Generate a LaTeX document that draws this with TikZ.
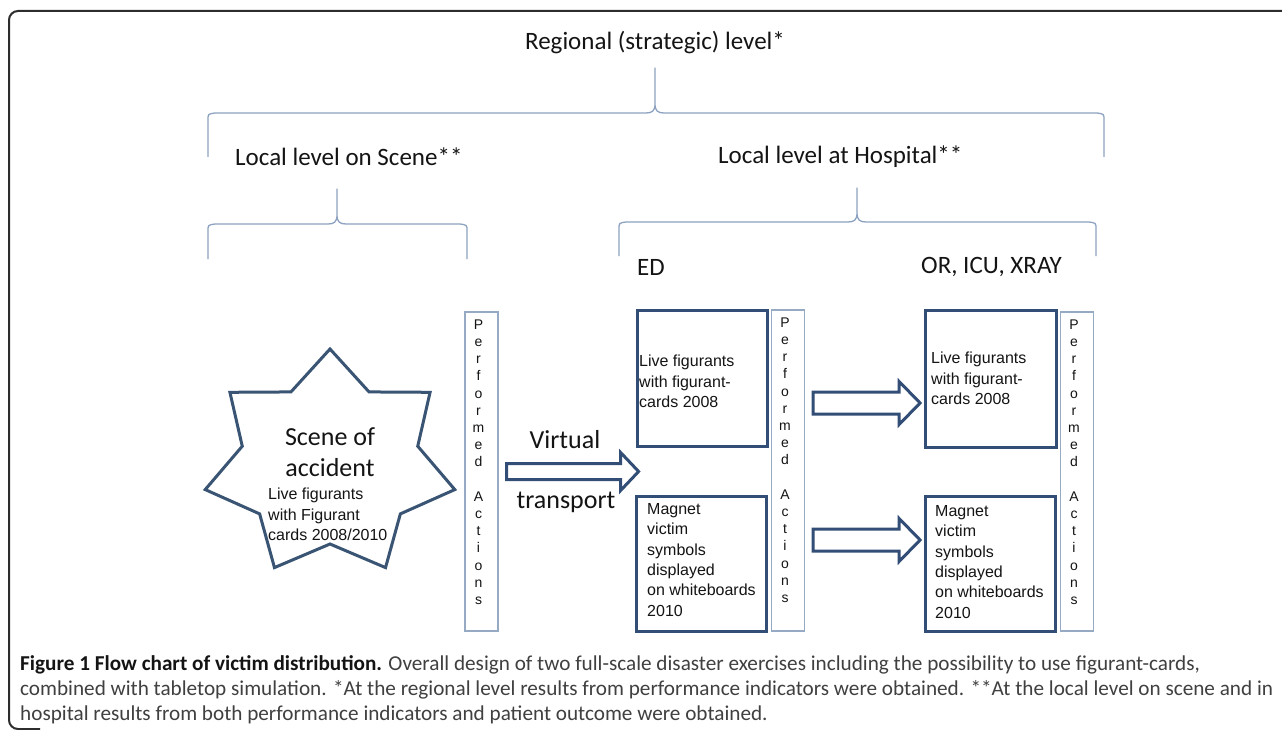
\documentclass[tikz,border=0pt]{standalone}
\usepackage{fontspec}
\setmainfont{Carlito}
\newfontfamily\arialf{Liberation Sans}
\usetikzlibrary{calc}
\definecolor{boxblue}{RGB}{50,78,118}
\definecolor{barblue}{RGB}{150,170,196}
\definecolor{bracecol}{RGB}{140,162,192}
\definecolor{starcol}{RGB}{58,84,116}
\definecolor{framecol}{RGB}{45,45,45}
\definecolor{captxt}{RGB}{64,64,64}
\definecolor{maintxt}{RGB}{20,20,20}
\begin{document}
\begin{tikzpicture}[x=1pt,y=-1pt,
  hdr/.style={font=\fontsize{25}{30}\selectfont, text=maintxt, inner sep=0},
  bigtxt/.style={font=\fontsize{26}{31}\selectfont, text=maintxt, inner sep=0, align=center},
  bracesty/.style={draw=bracecol, line width=1.3, line join=round},
  bigbox/.style={draw=boxblue, line width=3, inner sep=0},
  pabar/.style={draw=barblue, line width=1.2, inner sep=0, minimum width=33},
  patxt/.style={font=\arialf\fontsize{14}{17.2}\selectfont, text=maintxt, align=center, inner sep=0, anchor=north},
  boxtxt/.style={font=\arialf\fontsize{16}{20.4}\selectfont, text=maintxt, align=left, inner sep=0, anchor=north west},
  blockarrow/.style={draw=boxblue, fill=white, line width=3, line join=miter},
  starsty/.style={draw=starcol, line width=3, line join=miter}]
\useasboundingbox (0,0) rectangle (1282,730);
\fill[white] (0,0) rectangle (1282,730);
% outer frame
\draw[framecol, line width=2, rounded corners=9] (1295,11) -- (9,11) -- (9,729) -- (40,729);

% headings
\node[hdr] (regional) at (655,43) {Regional (strategic) level*};
\node[hdr, anchor=west] (scenelvl) at (235,157) {Local level on Scene**};
\node[hdr, anchor=west] (hosplvl) at (718,157) {Local level at Hospital**};
\node[hdr, anchor=west] (ed) at (637,267) {ED};
\node[hdr, anchor=west] (oricu) at (921,267) {OR, ICU, XRAY};

% braces
\draw[bracesty] (208,157) -- (208,120) .. controls (208,114) .. (215,113) -- (646,113)
  .. controls (652,113) and (655,111) .. (655,104) -- (655,68) -- (655,104)
  .. controls (655,111) and (658,113) .. (664,113) -- (1097,113)
  .. controls (1104,114) .. (1104,120) -- (1104,157);
\draw[bracesty] (208,259) -- (208,231) .. controls (208,225) .. (215,224) -- (328,224)
  .. controls (334,224) and (337,222) .. (337,215) -- (337,189) -- (337,215)
  .. controls (337,222) and (340,224) .. (346,224) -- (460,224)
  .. controls (467,225) .. (467,231) -- (467,259);
\draw[bracesty] (619,256) -- (619,229) .. controls (619,223) .. (626,222) -- (848,222)
  .. controls (854,222) and (857,220) .. (857,213) -- (857,188) -- (857,213)
  .. controls (857,220) and (860,222) .. (866,222) -- (1089,222)
  .. controls (1096,223) .. (1096,229) -- (1096,256);

% star
\draw[starsty, shift={(330,464)}] (-90:128 and 115)
  \foreach \k in {0,...,6} { -- ({-90+\k*360/7+360/14}:90 and 80) -- ({-90+(\k+1)*360/7}:128 and 115) } -- cycle;
\node[bigtxt] (scene) at (330,452) {Scene of\\accident};
\node[boxtxt] (scenetxt) at (268,488) {Live figurants\\with Figurant\\cards 2008/2010};

% performed actions bars
\node[pabar, minimum height=319] (bar1) at (481.5,471.5) {};
\node[pabar, minimum height=321] (bar2) at (788,470.5) {};
\node[pabar, minimum height=319] (bar3) at (1077,471.5) {};
\foreach \b in {bar1,bar2,bar3}{
  \node[patxt] (\b txt) at ($(\b.north)+(-3,8)$) {P\\e\\r\\f\\o\\r\\m\\e\\d\\[17.2pt]A\\c\\t\\i\\o\\n\\s};
}

% boxes
\node[bigbox, minimum width=130, minimum height=136] (edtop) at (702,378) {};
\node[bigbox, minimum width=130, minimum height=135] (edbot) at (701,563.5) {};
\node[bigbox, minimum width=131, minimum height=137] (ortop) at (990.5,378.5) {};
\node[bigbox, minimum width=130, minimum height=135] (orbot) at (990,563.5) {};
\node[boxtxt] (edtoptxt) at (639,355) {Live figurants\\with figurant-\\cards 2008};
\node[boxtxt] (edbottxt) at (647,503) {Magnet\\victim\\symbols\\displayed\\on whiteboards\\2010};
\node[boxtxt] (ortoptxt) at (931,352) {Live figurants\\with figurant-\\cards 2008};
\node[boxtxt] (orbottxt) at (935,505) {Magnet\\victim\\symbols\\displayed\\on whiteboards\\2010};

% virtual transport arrow
\draw[blockarrow] ($(bar1.east)+(8,-8)$) -- ++(114,0) -- ++(0,-11) -- ++(18,19) -- ++(-18,19) -- ++(0,-11) -- ++(-114,0) -- cycle;
\node[bigtxt] (virtual) at (565,440) {Virtual};
\node[bigtxt] (transport) at (566,502) {transport};

% arrows ED -> OR
\draw[blockarrow] ($(bar2.east)+(8,-78.5)$) -- ++(86,0) -- ++(0,-10.5) -- ++(21,21.5) -- ++(-21,21.5) -- ++(0,-10.5) -- ++(-86,0) -- cycle;
\draw[blockarrow] ($(bar2.east)+(8,58.5)$) -- ++(86,0) -- ++(0,-10.5) -- ++(21,21.5) -- ++(-21,21.5) -- ++(0,-10.5) -- ++(-86,0) -- cycle;

% caption
\node[anchor=north west, align=left, inner sep=0, font=\fontsize{21.2}{25}\selectfont, text=captxt] (caption) at (20,655.5)
  {\textbf{\color{maintxt}Figure 1 Flow chart of victim distribution.} Overall design of two full-scale disaster exercises including the possibility to use figurant-cards,\\
   combined with tabletop simulation. *At the regional level results from performance indicators were obtained. **At the local level on scene and in\\
   hospital results from both performance indicators and patient outcome were obtained.};
\end{tikzpicture}
\end{document}
